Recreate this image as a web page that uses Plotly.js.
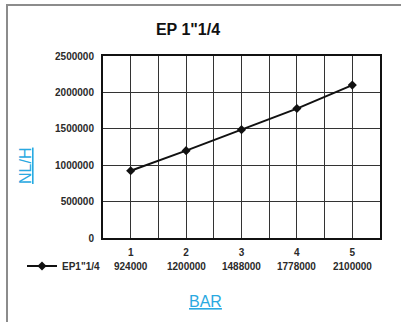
<!DOCTYPE html>
<html>
<head>
<meta charset="utf-8">
<script src="https://cdn.plot.ly/plotly-3.0.1.min.js"></script>
<style>
html,body{margin:0;padding:0;background:#fff;}
#wrap{position:relative;width:401px;height:322px;overflow:hidden;}
#chart{position:absolute;left:0;top:0;width:401px;height:322px;}
#frame{position:absolute;left:6px;top:4px;width:420px;height:340px;border-left:2px solid #8c8c8c;border-top:2px solid #8c8c8c;pointer-events:none;}
</style>
</head>
<body>
<div id="wrap"><div id="chart"></div><div id="frame"></div></div>
<script>
const categories = [1, 2, 3, 4, 5];
const flowValues = [924000, 1200000, 1488000, 1778000, 2100000];
const seriesName = 'EP1"1/4';
const chartTitle = 'EP 1"1/4';
const yTitle = 'NL/H';
const xTitle = 'BAR';
const yTicks = [0, 500000, 1000000, 1500000, 2000000, 2500000];

const blue = '#29a9e1';
const tickFont = {family: 'Liberation Sans, Arial, sans-serif', size: 10, color: '#2a2a2a', weight: 'bold'};

const trace = {
  x: categories,
  y: flowValues,
  name: seriesName,
  type: 'scatter',
  mode: 'lines+markers',
  line: {color: '#111', width: 2},
  marker: {color: '#111', symbol: 'diamond', size: 7}
};

const annotations = categories.map((c, i) => ({
  x: c, xref: 'x',
  y: 266, yref: 'paper',
  text: String(flowValues[i]),
  showarrow: false,
  font: tickFont,
  xanchor: 'center', yanchor: 'middle'
}));
// convert pixel y to paper coords: plot area top=56, bottom=238
function pyToPaper(py){ return (238 - py) / (238 - 56); }
function pxToPaper(px){ return (px - 103) / (380 - 103); }
annotations.forEach(a => { a.y = pyToPaper(a.y); });

annotations.push({
  x: pxToPaper(25), xref: 'paper', y: pyToPaper(166), yref: 'paper',
  text: yTitle, textangle: -90, showarrow: false,
  font: {family: 'Liberation Sans, Arial, sans-serif', size: 16, color: blue, lineposition: 'under'},
  xanchor: 'center', yanchor: 'middle'
});
annotations.push({
  x: pxToPaper(205), xref: 'paper', y: pyToPaper(301), yref: 'paper',
  text: xTitle, showarrow: false,
  font: {family: 'Liberation Sans, Arial, sans-serif', size: 16, color: blue, lineposition: 'under'},
  xanchor: 'center', yanchor: 'middle'
});

const layout = {
  width: 401, height: 322,
  margin: {l: 103, r: 21, t: 56, b: 84},
  paper_bgcolor: '#fff', plot_bgcolor: '#fff',
  title: {
    text: chartTitle, xref: 'container', x: 188/401, xanchor: 'center',
    yref: 'container', y: 1 - 29/322, yanchor: 'middle',
    font: {family: 'Liberation Sans, Arial, sans-serif', size: 16, color: '#111', weight: 'bold'}
  },
  xaxis: {
    range: [0.5, 5.5], tickvals: categories, ticktext: categories.map(String),
    showgrid: true, gridcolor: '#333', gridwidth: 1,
    minor: {tick0: 0.5, dtick: 0.5, showgrid: true, gridcolor: '#333', gridwidth: 1},
    showline: true, linecolor: '#111', linewidth: 2, mirror: true,
    zeroline: false, ticks: '', ticklabelstandoff: 4,
    tickfont: tickFont, fixedrange: true
  },
  yaxis: {
    range: [0, 2500000], tickvals: yTicks, ticktext: yTicks.map(String),
    showgrid: true, gridcolor: '#333', gridwidth: 1,
    showline: true, linecolor: '#111', linewidth: 2, mirror: true,
    zeroline: false, ticks: '', ticklabelstandoff: 5,
    tickfont: tickFont, fixedrange: true
  },
  showlegend: true,
  legend: {
    x: pxToPaper(22), xanchor: 'left', y: pyToPaper(266), yanchor: 'middle',
    orientation: 'h', bgcolor: 'rgba(0,0,0,0)', borderwidth: 0,
    font: tickFont, itemwidth: 30, tracegroupgap: 0
  },
  annotations: annotations
};

Plotly.newPlot('chart', [trace], layout, {displayModeBar: false, staticPlot: true});
</script>
</body>
</html>
